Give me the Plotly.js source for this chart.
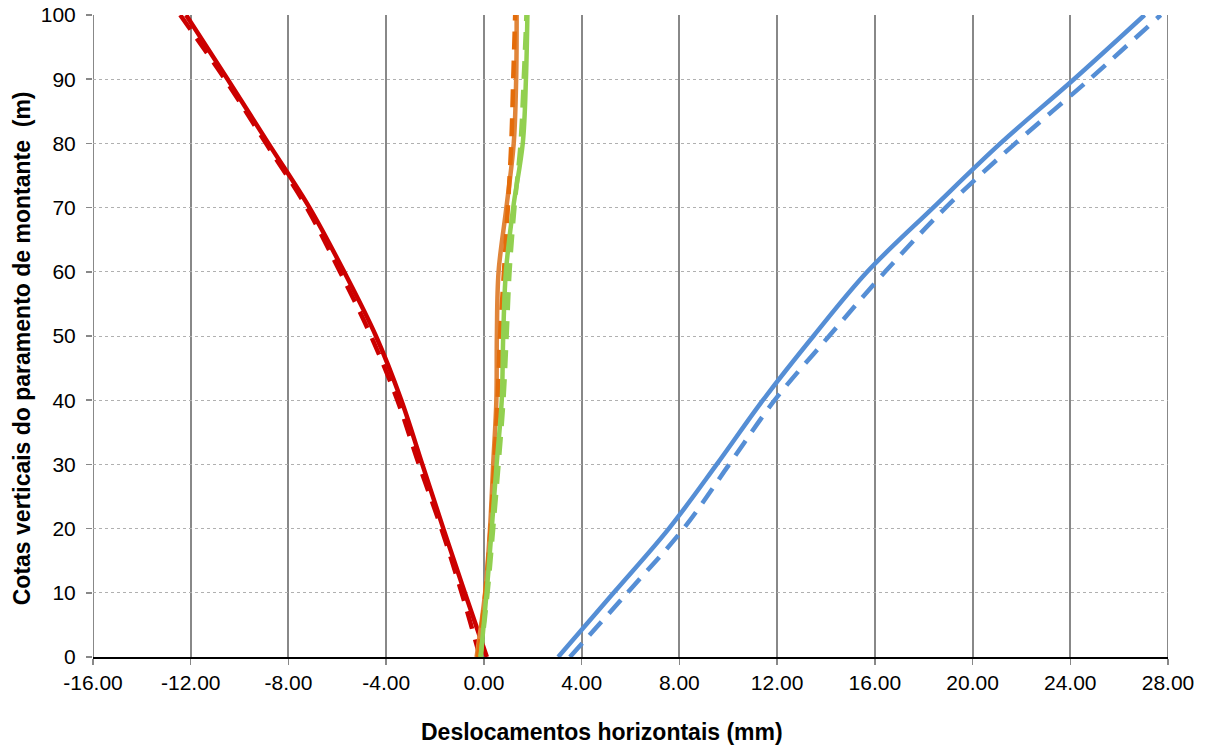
<!DOCTYPE html>
<html>
<head>
<meta charset="utf-8">
<script src="https://cdn.plot.ly/plotly-3.0.1.min.js"></script>
<style>html,body{margin:0;padding:0;background:#fff;}#chart{width:1206px;height:747px;}</style>
</head>
<body>
<div id="chart"></div>
<script>
// Heights (m)
var heights = [0, 10, 20, 30, 40, 50, 60, 70, 80, 90, 100];

// Horizontal displacements (mm)
var redSolid    = [0.12, -0.78, -1.66, -2.52, -3.38, -4.42, -5.72, -7.14, -8.82, -10.49, -12.19];
var redDashed   = [-0.16, -0.91, -1.74, -2.66, -3.54, -4.62, -5.89, -7.25, -8.92, -10.60, -12.43];
var blueSolid   = [3.04, 5.31, 7.57, 9.53, 11.42, 13.49, 15.69, 18.39, 21.14, 24.15, 27.04];
var blueDashed  = [3.52, 5.87, 8.17, 10.04, 11.90, 14.13, 16.42, 18.90, 21.75, 24.79, 27.70];
var orangeSolid = [-0.30, 0.05, 0.25, 0.38, 0.51, 0.53, 0.60, 0.92, 1.22, 1.32, 1.34];
var orangeDashed= [-0.25, 0.06, 0.27, 0.42, 0.56, 0.66, 0.82, 0.98, 1.12, 1.20, 1.28];
var greenSolid  = [-0.13, 0.11, 0.32, 0.52, 0.73, 0.79, 0.90, 1.20, 1.59, 1.72, 1.78];
var greenDashed = [-0.14, 0.15, 0.38, 0.60, 0.80, 0.93, 1.05, 1.25, 1.50, 1.63, 1.74];

var xTicks = [-16, -12, -8, -4, 0, 4, 8, 12, 16, 20, 24, 28];

var xTitle = 'Deslocamentos horizontais (mm)';
var yTitle = 'Cotas verticais do paramento de montante  (m)';

var DASH = "18px,11px";
function tr(x, color, dashed, name) {
  return {
    x: x, y: heights, type: 'scatter', mode: 'lines', name: name,
    line: {color: color, width: 4.5, shape: 'spline', smoothing: 1, dash: dashed ? DASH : 'solid'},
    hoverinfo: 'skip', showlegend: false
  };
}

var data = [
  tr(redDashed, '#CC0000', true, 'red dashed'),
  tr(redSolid, '#CC0000', false, 'red solid'),
  tr(blueDashed, '#558ED5', true, 'blue dashed'),
  tr(blueSolid, '#558ED5', false, 'blue solid'),
  tr(orangeSolid, '#E0853A', false, 'orange solid'),
  tr(orangeDashed, '#E46C0A', true, 'orange dashed'),
  tr(greenDashed, '#92D050', true, 'green dashed'),
  tr(greenSolid, '#92D050', false, 'green solid')
];

var layout = {
  width: 1206, height: 747,
  margin: {l: 93, r: 38, t: 15, b: 90},
  paper_bgcolor: '#ffffff', plot_bgcolor: '#ffffff',
  font: {family: 'Liberation Sans, Arial, sans-serif', size: 21, color: '#000'},
  xaxis: {
    range: [-16, 28], tickvals: xTicks, ticktext: xTicks.map(function(v){return v.toFixed(2);}),
    showgrid: true, gridcolor: '#888888', gridwidth: 2,
    zeroline: false, showline: true, linecolor: '#000', linewidth: 1.5,
    ticks: 'outside', ticklen: 6, tickcolor: '#888', tickwidth: 1.5,
    tickfont: {size: 21},
    automargin: false, fixedrange: true
  },
  yaxis: {
    range: [0, 100], dtick: 10, tick0: 0,
    showgrid: true, gridcolor: '#b0b0b0', gridwidth: 1, griddash: 'dot',
    zeroline: false, showline: false,
    ticks: 'outside', ticklen: 6, tickcolor: '#888', tickwidth: 1.5,
    ticklabelstandoff: 6,
    tickfont: {size: 21},
    automargin: false, fixedrange: true
  },
  annotations: [
    {text: '<b>' + xTitle + '</b>', xref: 'paper', yref: 'paper', x: 0.4735, y: -0.117,
     xanchor: 'center', yanchor: 'middle', showarrow: false, font: {size: 23}},
    {text: '<b>' + yTitle + '</b>', xref: 'paper', yref: 'paper', x: -0.066, y: 0.481,
     xanchor: 'center', yanchor: 'middle', textangle: -90, showarrow: false, font: {size: 23}}
  ],
  shapes: [
    {type: 'line', xref: 'x', yref: 'paper', x0: -16, x1: -16, y0: 0, y1: 1, line: {color: '#888888', width: 2}, layer: 'below'},
    {type: 'line', xref: 'x', yref: 'paper', x0: 28, x1: 28, y0: 0, y1: 1, line: {color: '#888888', width: 2}, layer: 'below'}
  ]
};

Plotly.newPlot('chart', data, layout, {displayModeBar: false, staticPlot: true});
</script>
</body>
</html>
